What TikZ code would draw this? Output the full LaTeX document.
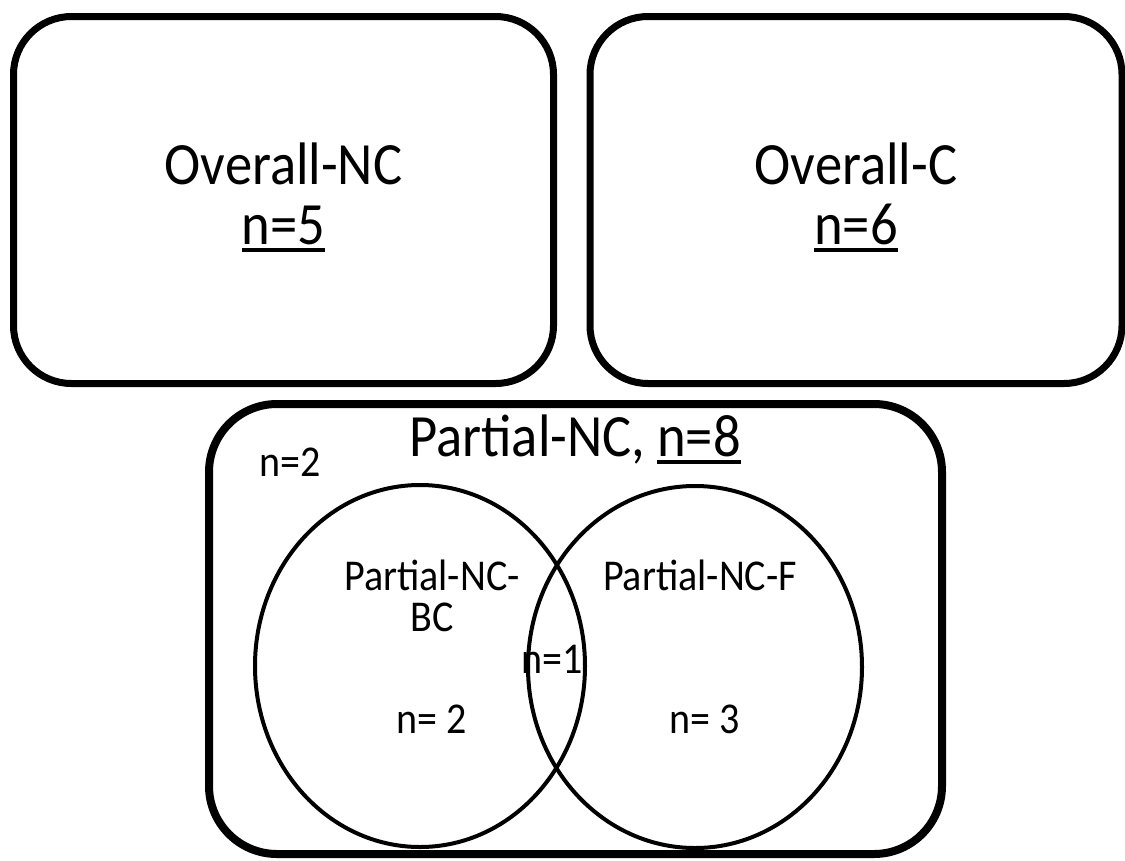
\documentclass[tikz,border=0pt]{standalone}
\usepackage{fontspec}
\setmainfont{Carlito}[FakeStretch=0.91]
\usetikzlibrary{shapes.geometric}
\newcommand\myul[1]{\setbox0\hbox{#1}\rlap{\rule[-0.13em]{\wd0}{0.065em}}\box0}
\begin{document}
\begin{tikzpicture}[x=1pt,y=-1pt,
  rbox/.style={draw, line width=7pt, rounded corners=58pt, inner sep=0pt},
  bigbox/.style={draw, line width=8pt, rounded corners=68pt, inner sep=0pt},
  bigtxt/.style={font=\fontsize{60}{72}\selectfont, anchor=base, inner sep=0pt},
  smalltxt/.style={font=\fontsize{44}{52}\selectfont, anchor=base, inner sep=0pt},
  venn/.style={draw, ellipse, line width=4pt, inner sep=0pt}]
\useasboundingbox (0,0) rectangle (1125,860);
% top boxes
\node[rbox, minimum width=540pt, minimum height=367pt] (onc) at (283.5,200) {};
\node[bigtxt] (onct) at (283.5,184) {Overall-NC};
\node[bigtxt] (oncn) at (283.5,244) {\myul{n=5}};
\node[rbox, minimum width=532pt, minimum height=367pt] (oc) at (856,200) {};
\node[bigtxt] (oct) at (856,184) {Overall-C};
\node[bigtxt] (ocn) at (856,244) {\myul{n=6}};
% bottom box
\node[bigbox, minimum width=733pt, minimum height=450pt] (pnc) at (575.5,629) {};
\node[bigtxt] (pnct) at (575,456) {Partial-NC, \myul{n=8}};
\node[smalltxt] (out) at (290,476) {n=2};
% venn
\node[venn, minimum width=330pt, minimum height=362pt] (L) at (420,666) {};
\node[venn, minimum width=334pt, minimum height=362pt] (R) at (695,667) {};
\node[smalltxt] (lt1) at (432,590) {Partial-NC-};
\node[smalltxt] (lt2) at (432,631) {BC};
\node[smalltxt] (ln) at (432,733) {n= 2};
\node[smalltxt] (mid) at (552,673) {n=1};
\node[smalltxt] (rt) at (700,590) {Partial-NC-F};
\node[smalltxt] (rn) at (705,733) {n= 3};
\end{tikzpicture}
\end{document}
